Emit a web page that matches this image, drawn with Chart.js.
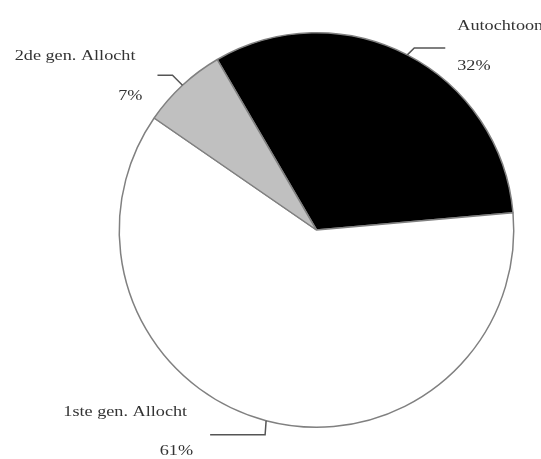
<!DOCTYPE html>
<html>
<head>
<meta charset="utf-8">
<script src="https://cdn.jsdelivr.net/npm/chart.js@4.4.1/dist/chart.umd.min.js"></script>
<style>
    html, body { margin: 0; padding: 0; background: #fff; }
    #pie { display: block; }
</style>
</head>
<body>
<canvas id="pie" width="541" height="459"></canvas>
<script>
const labels = ['Autochtoon', '1ste gen. Allocht', '2de gen. Allocht'];
const percentages = [32, 61, 7];
const sliceColors = ['#000000', '#ffffff', '#c0c0c0'];

// leader line and label placement per slice: bend from the arc edge, horizontal run,
// then name/percentage offsets from the end of the run
const leaders = [
    {bend: [7, -7], run: 31, align: 'left', name: [12, -22], pct: [12, 18]},
    {bend: [-1, 14], run: -55, align: 'right', name: [-23, -22], pct: [-17, 17]},
    {bend: [-10, -10], run: -15, align: 'right', name: [-22, -19], pct: [-15, 21]}
];

const textScaleX = 1.3;

function drawStretched(ctx, text, x, y, align) {
    ctx.save();
    ctx.translate(x, y);
    ctx.scale(textScaleX, 1);
    ctx.textAlign = align;
    ctx.textBaseline = 'middle';
    ctx.fillText(text, 0, 0);
    ctx.restore();
}

const leaderLabels = {
    id: 'leaderLabels',
    afterDraw(chart) {
        const ctx = chart.ctx;
        const arcs = chart.getDatasetMeta(0).data;
        ctx.save();
        ctx.strokeStyle = '#555';
        ctx.lineWidth = 1.5;
        ctx.fillStyle = '#333';
        ctx.font = '14px "Liberation Serif", "Times New Roman", serif';
        arcs.forEach((arc, i) => {
            const mid = (arc.startAngle + arc.endAngle) / 2;
            const ex = arc.x + Math.cos(mid) * arc.outerRadius;
            const ey = arc.y + Math.sin(mid) * arc.outerRadius;
            const l = leaders[i];
            const bx = ex + l.bend[0];
            const by = ey + l.bend[1];
            const tx = bx + l.run;
            ctx.beginPath();
            ctx.moveTo(ex, ey);
            ctx.lineTo(bx, by);
            ctx.lineTo(tx, by);
            ctx.stroke();
            drawStretched(ctx, labels[i], tx + l.name[0], by + l.name[1], l.align);
            drawStretched(ctx, percentages[i] + '%', tx + l.pct[0], by + l.pct[1], l.align);
        });
        ctx.restore();
    }
};

new Chart(document.getElementById('pie'), {
    type: 'pie',
    data: {
        labels: labels,
        datasets: [{
            data: percentages,
            backgroundColor: sliceColors,
            borderColor: '#808080',
            borderWidth: 1.5
        }]
    },
    options: {
        responsive: false,
        animation: false,
        rotation: -30.2,
        layout: {padding: {left: 118, right: 26, top: 32, bottom: 31}},
        plugins: {
            legend: {display: false},
            tooltip: {enabled: false}
        }
    },
    plugins: [leaderLabels]
});
</script>
</body>
</html>
